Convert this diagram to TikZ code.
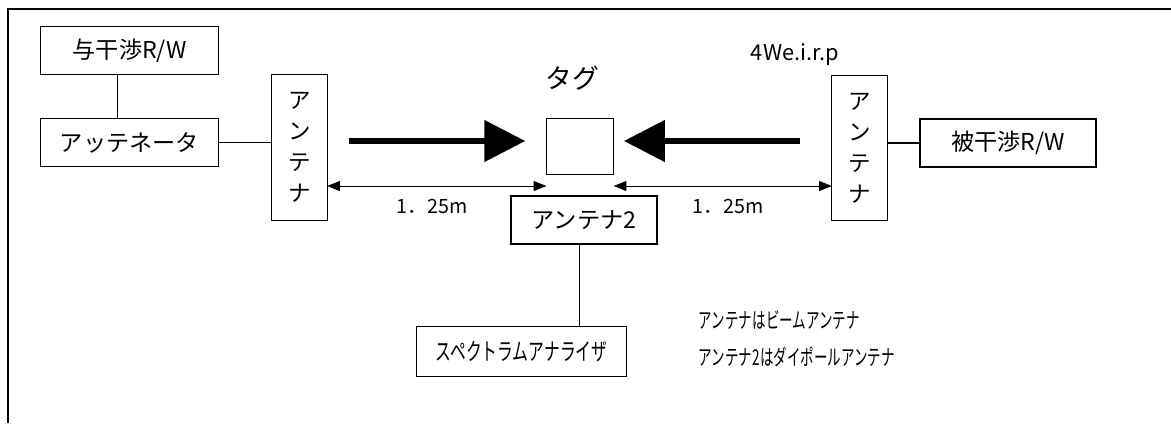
\documentclass[tikz,border=0pt]{standalone}
\usepackage{fontspec}
\setmainfont{Noto Sans CJK JP}
\newfontfamily\specjp[FakeStretch=0.66]{Noto Sans CJK JP}
\newfontfamily\notejp[FakeStretch=0.62]{Noto Sans CJK JP}
\usepackage{tikz}
\usetikzlibrary{positioning, arrows.meta, calc}

\begin{document}
\begin{tikzpicture}[
    x=0.025cm, y=-0.025cm,
    box/.style={rectangle, draw, line width=0.8pt, inner sep=0pt, outer sep=0pt, font=\fontsize{16.5}{19}\selectfont},
    antbox/.style={box, minimum width=1.38cm, minimum height=3.63cm, align=center, font=\fontsize{16}{22}\selectfont},
    beam/.style={line width=3.6pt, -{Triangle[length=29pt, width=29pt]}},
    dim/.style={line width=0.7pt, {Triangle[length=9pt, width=7pt]}-{Triangle[length=9pt, width=7pt]}},
    label/.style={font=\fontsize{14}{16}\selectfont},
    note/.style={anchor=west, font=\notejp\fontsize{15.5}{18}\selectfont}
]
    \useasboundingbox (0,0) rectangle (1171,423);

    % Frame
    \draw[line width=1.4pt] (8,423) -- (8,9) -- (1171,9);

    % Interfering side
    \node[box, minimum width=4.43cm, minimum height=1.18cm] (rw) at (129.5,50.5) {与干渉R/W};
    \node[box, minimum width=4.43cm, minimum height=1.22cm] (att) at (129.5,142.5) {アッテネータ};
    \node[antbox] (antL) at (299.5,147.5) {ア\\ン\\テ\\ナ};

    % Tag
    \node[box, minimum width=1.68cm, minimum height=1.38cm] (tag) at (580,146.5) {};
    \node[font=\fontsize{19}{22}\selectfont] (taglabel) at (572,78) {タグ};

    % Victim side
    \node[antbox] (antR) at (859.5,148) {ア\\ン\\テ\\ナ};
    \node[box, minimum width=4.4cm, minimum height=1.2cm] (victim) at (1008,143) {被干渉R/W};
    \node[font=\fontsize{15.5}{17}\selectfont] (eirp) at (795,55) {4We.i.r.p};

    % Measurement
    \node[box, minimum width=3.65cm, minimum height=1.2cm] (ant2) at (584,220) {アンテナ2};
    \node[box, minimum width=5.23cm, minimum height=1.23cm, font=\specjp\fontsize{17}{19}\selectfont] (spec) at (521.5,351.5) {スペクトラムアナライザ};

    % Notes
    \node[note] (note1) at (694,320) {アンテナはビームアンテナ};
    \node[note] (note2) at (694,357) {アンテナ2はダイポールアンテナ};

    % Connections
    \draw[line width=0.8pt] ([xshift=-0.29cm]rw.south) -- ([xshift=-0.29cm]att.north);
    \draw[line width=0.8pt] (att.east) -- (att.east -| antL.west);
    \draw[line width=0.8pt] (victim.west) -- (victim.west -| antR.east);
    \draw[line width=0.8pt] ([xshift=-0.12cm]ant2.south) -- ([xshift=-0.12cm]ant2.south |- spec.north);

    % Beams
    \coordinate (beamL) at (349,141);
    \coordinate (beamR) at (800,141);
    \draw[beam] (beamL) -- ([xshift=-0.53cm]tag.west |- beamL);
    \draw[beam] (beamR) -- ([xshift=0.26cm]tag.east |- beamR);

    % Distances
    \coordinate (dimy) at (0,186);
    \draw[dim] (antL.east |- dimy) -- (tag.west |- dimy);
    \draw[dim] (tag.east |- dimy) -- (antR.west |- dimy);
    \node[label] (distL) at (432,206) {1．25m};
    \node[label] (distR) at (728,206) {1．25m};
\end{tikzpicture}
\end{document}
